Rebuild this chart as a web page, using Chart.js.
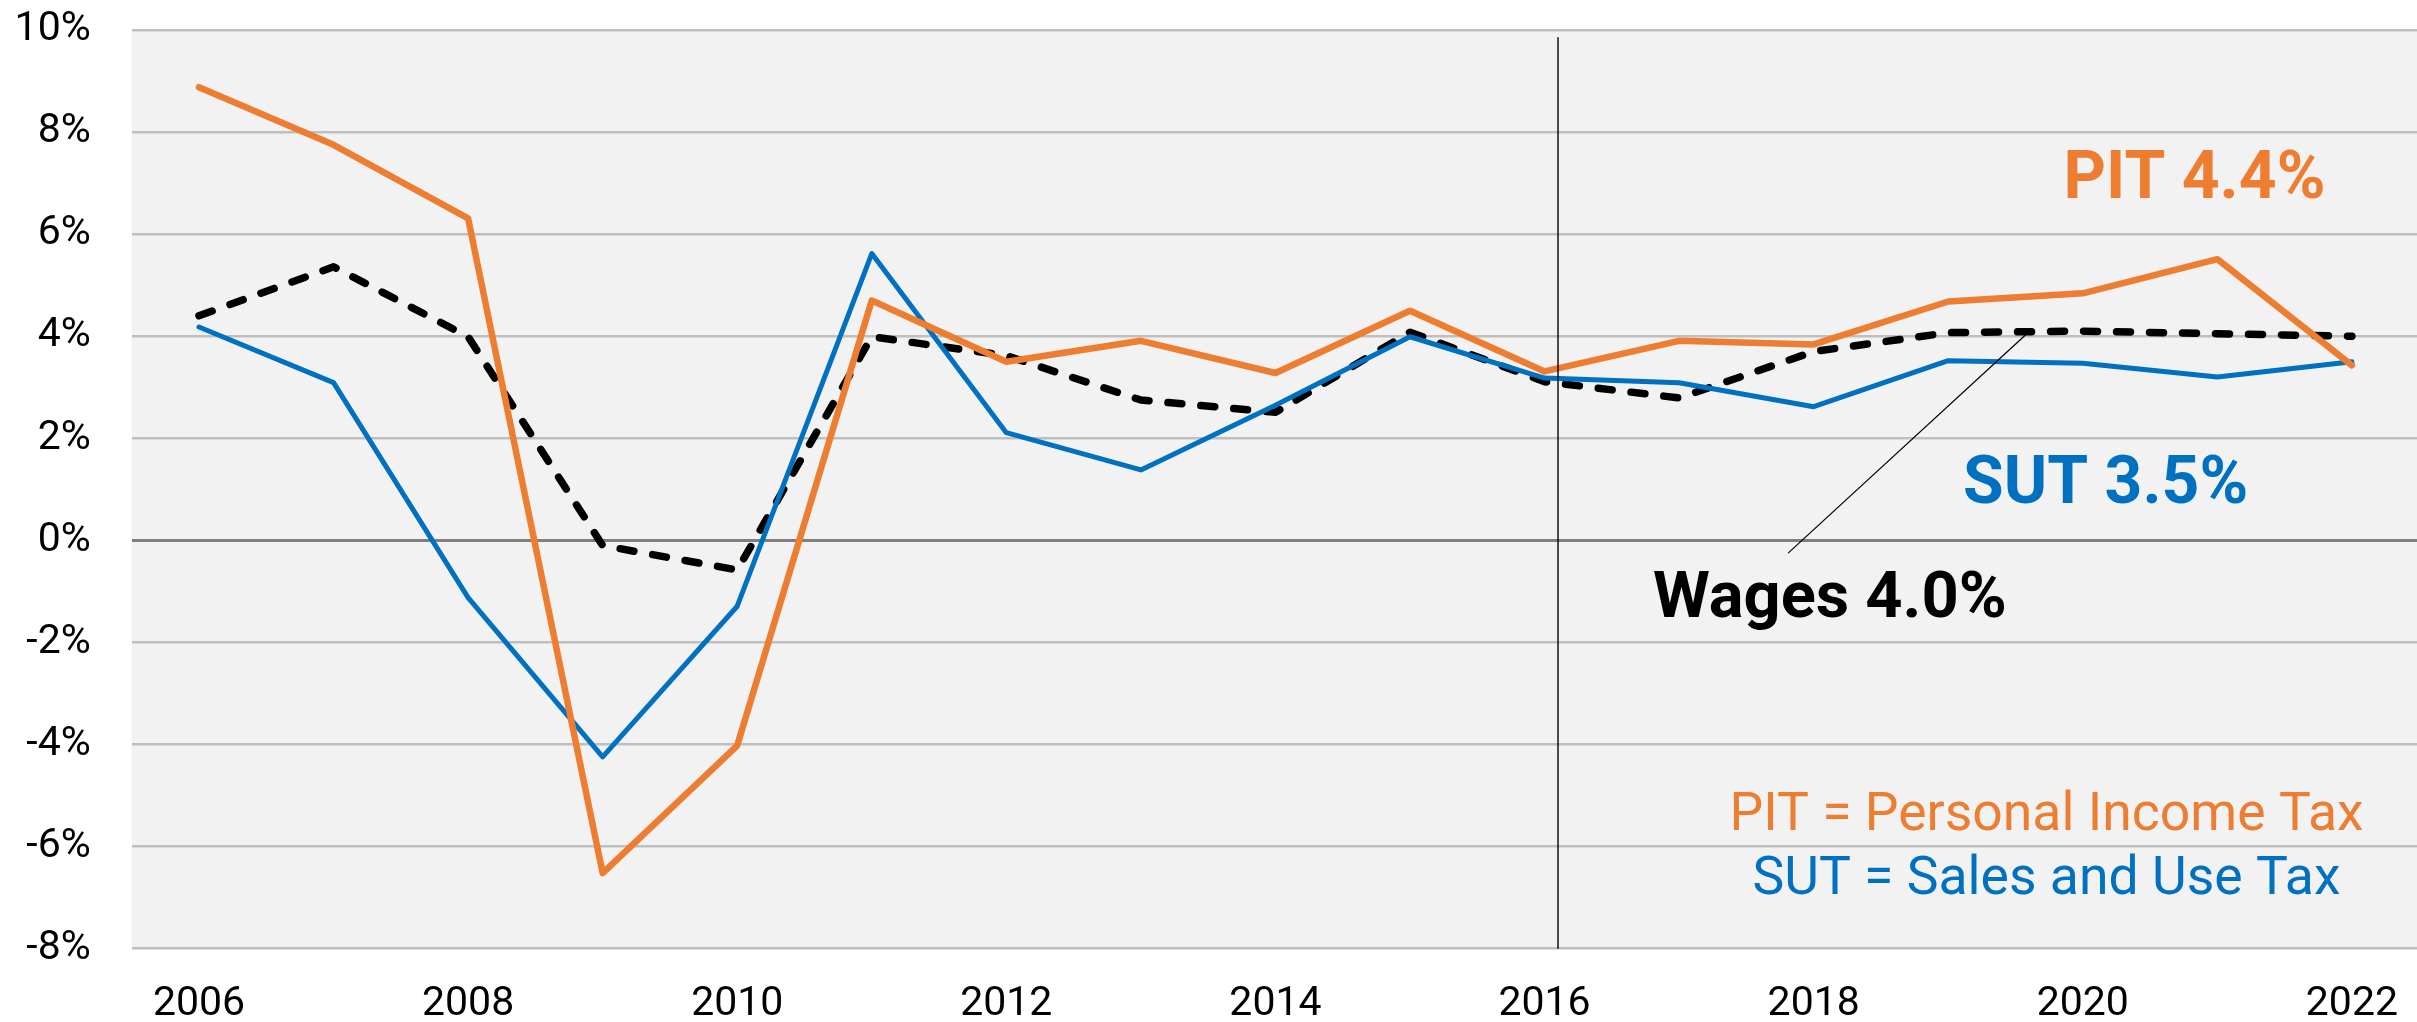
<!DOCTYPE html>
<html>
<head>
<meta charset="utf-8">
<script src="https://cdn.jsdelivr.net/npm/chart.js@4.4.1/dist/chart.umd.min.js"></script>
<style>
  html, body { margin: 0; padding: 0; background: #fff; overflow: hidden; }
  #wrap { width: 2429px; height: 1022px; }
</style>
</head>
<body>
<div id="wrap"><canvas id="chart" width="2429" height="1022"></canvas></div>
<script>
// Growth rates, % change year over year
const years = ['2006', '2007', '2008', '2009', '2010', '2011', '2012', '2013', '2014',
  '2015', '2016', '2017', '2018', '2019', '2020', '2021', '2022'];
const pit = [8.88, 7.75, 6.31, -6.52, -4.02, 4.70, 3.50, 3.91, 3.28, 4.50, 3.31, 3.91, 3.84, 4.68, 4.84, 5.51, 3.43];
const sut = [4.18, 3.09, -1.12, -4.24, -1.29, 5.62, 2.11, 1.38, 2.65, 3.99, 3.18, 3.09, 2.62, 3.52, 3.47, 3.20, 3.50];
const wages = [4.40, 5.36, 3.99, -0.10, -0.58, 3.99, 3.62, 2.75, 2.51, 4.08, 3.11, 2.79, 3.70, 4.07, 4.10, 4.05, 4.00];

const yTicks = [-8, -6, -4, -2, 0, 2, 4, 6, 8, 10];

// Annotation texts, anchored in (category index, value) space
const labels = [
  { text: 'PIT 4.4%', x: 14.83, y: 7.04, color: '#ED7D31', font: 'bold 66px Roboto' },
  { text: 'SUT 3.5%', x: 14.17, y: 1.05, color: '#0070C0', font: 'bold 66px Roboto' },
  { text: 'Wages 4.0%', x: 12.12, y: -1.19, color: '#000000', font: 'bold 65px Roboto' },
  { text: 'PIT = Personal Income Tax', x: 13.73, y: -5.42, color: '#ED7D31', font: '53.5px Roboto' },
  { text: 'SUT = Sales and Use Tax', x: 13.73, y: -6.67, color: '#0070C0', font: '53.5px Roboto' }
];
const leader = [[13.58, 4.04], [11.81, -0.25]];
const divider = { x: 10.1, top: 9.86 };

const PLOT_LEFT = 131.7;
const PLOT_BOTTOM = 948.7;

const decorations = {
  id: 'decorations',
  beforeDraw(chart) {
    const { ctx, chartArea } = chart;
    ctx.save();
    ctx.fillStyle = '#f2f2f2';
    ctx.fillRect(chartArea.left, chartArea.top, chartArea.right - chartArea.left, chartArea.bottom - chartArea.top);
    ctx.restore();
  },
  afterDatasetsDraw(chart) {
    const { ctx, chartArea } = chart;
    const xs = chart.scales.x, ys = chart.scales.y;
    ctx.save();
    // vertical divider
    ctx.strokeStyle = '#000';
    ctx.lineWidth = 1.4;
    ctx.beginPath();
    ctx.moveTo(xs.getPixelForValue(divider.x), ys.getPixelForValue(divider.top));
    ctx.lineTo(xs.getPixelForValue(divider.x), chartArea.bottom);
    ctx.stroke();
    // leader line for wages label
    ctx.lineWidth = 1.2;
    ctx.beginPath();
    ctx.moveTo(xs.getPixelForValue(leader[0][0]), ys.getPixelForValue(leader[0][1]));
    ctx.lineTo(xs.getPixelForValue(leader[1][0]), ys.getPixelForValue(leader[1][1]));
    ctx.stroke();
    // texts
    ctx.textAlign = 'center';
    ctx.textBaseline = 'middle';
    labels.forEach(l => {
      ctx.font = l.font;
      ctx.fillStyle = l.color;
      ctx.fillText(l.text, xs.getPixelForValue(l.x), ys.getPixelForValue(l.y));
    });
    ctx.restore();
  }
};

const chart = new Chart(document.getElementById('chart'), {
  type: 'line',
  data: {
    labels: years,
    datasets: [
      {
        label: 'PIT',
        data: pit,
        borderColor: '#ED7D31',
        borderWidth: 6.5,
        order: 1
      },
      {
        label: 'SUT',
        data: sut,
        borderColor: '#0070C0',
        borderWidth: 5,
        order: 2
      },
      {
        label: 'Wages',
        data: wages,
        borderColor: '#000000',
        borderWidth: 7.5,
        borderDash: [14, 19],
        borderCapStyle: 'round',
        order: 3
      }
    ]
  },
  options: {
    responsive: false,
    animation: false,
    devicePixelRatio: 1,
    layout: { padding: { top: 30, left: 0, right: 0, bottom: 0 } },
    elements: {
      point: { radius: 0 },
      line: { tension: 0, borderJoinStyle: 'round', borderCapStyle: 'round' }
    },
    plugins: {
      legend: { display: false },
      tooltip: { enabled: false }
    },
    scales: {
      x: {
        type: 'category',
        offset: true,
        grid: { display: false, drawTicks: false },
        border: { display: false },
        ticks: {
          color: '#000',
          font: { family: 'Roboto', size: 41 },
          padding: 31,
          maxRotation: 0,
          autoSkip: false,
          callback: function (val, i) { return i % 2 === 0 ? years[i] : ''; }
        },
        afterFit(scale) { scale.height = 1022 - PLOT_BOTTOM; }
      },
      y: {
        min: -8,
        max: 10,
        afterBuildTicks(scale) { scale.ticks = yTicks.map(v => ({ value: v })); },
        grid: {
          drawTicks: false,
          color: ctx => ctx.tick && ctx.tick.value === 0 ? '#7f7f7f' : '#bfbfbf',
          lineWidth: ctx => ctx.tick && ctx.tick.value === 0 ? 3 : 2.5
        },
        border: { display: false },
        ticks: {
          color: '#000',
          font: { family: 'Roboto', size: 41 },
          padding: 41,
          callback: v => v + '%'
        },
        afterFit(scale) {
          scale.width = PLOT_LEFT;
          scale.paddingTop = 0;
          scale.paddingBottom = 0;
        }
      }
    }
  },
  plugins: [decorations]
});
</script>
</body>
</html>
